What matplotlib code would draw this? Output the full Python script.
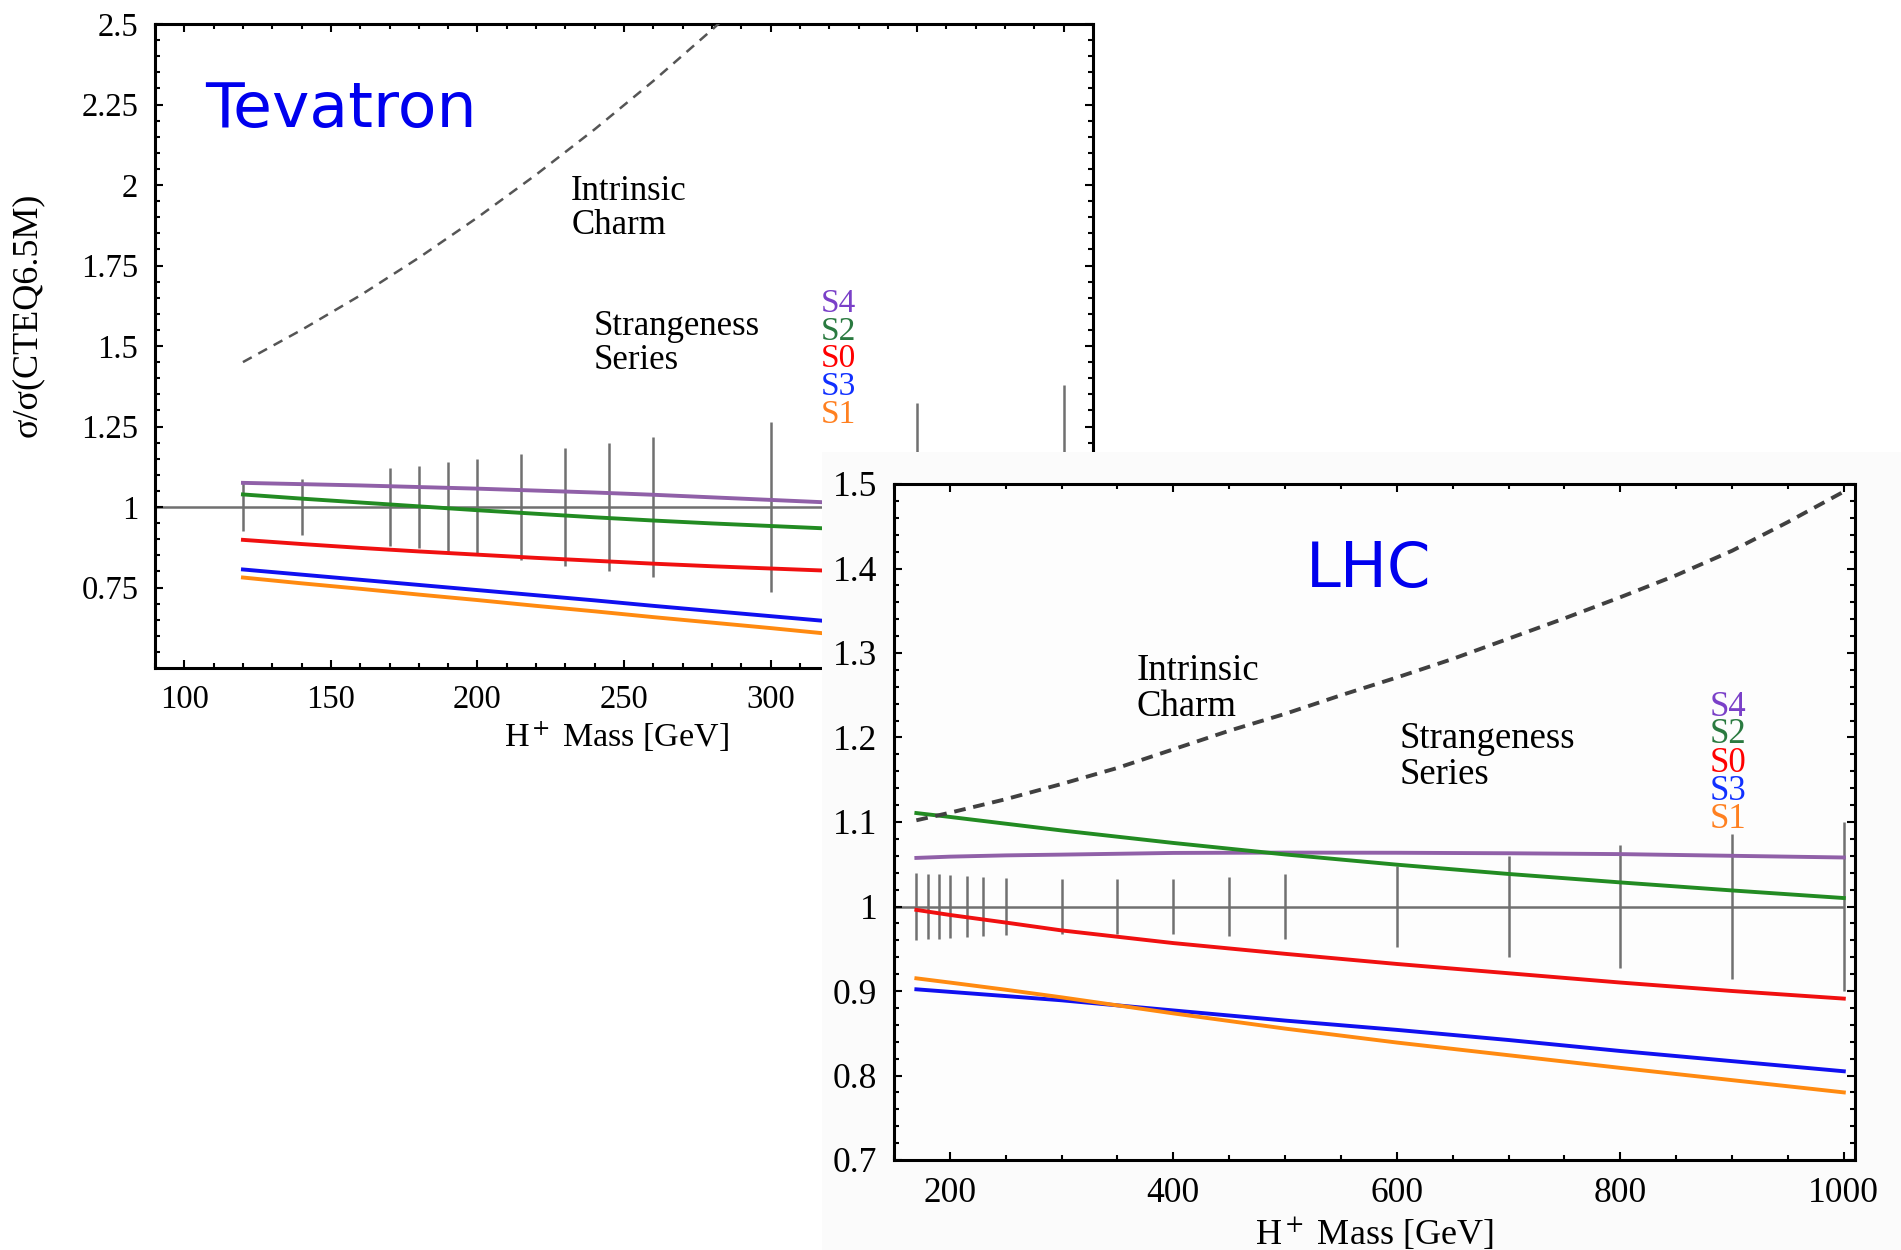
import matplotlib
matplotlib.use("Agg")
import matplotlib.pyplot as plt
from matplotlib.ticker import MultipleLocator, FixedLocator, FuncFormatter

plt.rcParams['font.family'] = ['Liberation Serif', 'DejaVu Serif']
plt.rcParams['mathtext.fontset'] = 'stix'

# ---- Tevatron data ----
tev_mass = [120, 140, 160, 180, 200, 220, 240, 260, 280, 300, 320]
tev_s4 = [1.075, 1.071, 1.067, 1.062, 1.057, 1.051, 1.045, 1.038, 1.030, 1.022, 1.014]
tev_s2 = [1.039, 1.026, 1.014, 1.002, 0.990, 0.979, 0.968, 0.958, 0.949, 0.941, 0.933]
tev_s0 = [0.898, 0.885, 0.873, 0.862, 0.852, 0.842, 0.833, 0.824, 0.816, 0.809, 0.802]
tev_s3 = [0.806, 0.790, 0.774, 0.758, 0.742, 0.726, 0.710, 0.693, 0.677, 0.661, 0.645]
tev_s1 = [0.781, 0.763, 0.746, 0.728, 0.711, 0.693, 0.676, 0.658, 0.641, 0.624, 0.606]
tev_ic_mass = [120, 140, 160, 180, 200, 220, 240, 260, 280, 300]
tev_ic = [1.45, 1.55, 1.657, 1.774, 1.899, 2.032, 2.173, 2.323, 2.482, 2.649]
tev_err_mass = [120, 140, 170, 180, 190, 200, 215, 230, 245, 260, 300, 350, 400]
tev_err = [0.073, 0.088, 0.12, 0.128, 0.139, 0.149, 0.166, 0.183, 0.199, 0.217, 0.265, 0.322, 0.38]

# ---- LHC data ----
lhc_mass = [170, 200, 250, 300, 400, 500, 600, 700, 800, 900, 1000]
lhc_s4 = [1.0575, 1.059, 1.0605, 1.0614, 1.0634, 1.0638, 1.0636, 1.063, 1.062, 1.060, 1.058]
lhc_s2 = [1.1106, 1.106, 1.098, 1.090, 1.0752, 1.0616, 1.0495, 1.0385, 1.0285, 1.019, 1.010]
lhc_s0 = [0.996, 0.990, 0.981, 0.9717, 0.9567, 0.944, 0.932, 0.921, 0.910, 0.900, 0.891]
lhc_s3 = [0.902, 0.899, 0.894, 0.889, 0.877, 0.865, 0.854, 0.842, 0.829, 0.817, 0.805]
lhc_s1 = [0.915, 0.910, 0.9015, 0.8925, 0.8735, 0.8555, 0.839, 0.824, 0.809, 0.7945, 0.780]
lhc_ic_mass = [170, 200, 250, 300, 350, 400, 450, 500, 550, 600, 650, 700, 750, 800, 850, 900, 950, 1000]
lhc_ic = [1.102, 1.111, 1.127, 1.145, 1.164, 1.186, 1.208, 1.228, 1.250, 1.271, 1.293, 1.317,
          1.341, 1.366, 1.392, 1.421, 1.455, 1.491]
lhc_err_mass = [170, 180, 190, 200, 215, 230, 250, 300, 350, 400, 450, 500, 600, 700, 800, 900, 1000]
lhc_err = [0.040, 0.039, 0.039, 0.037, 0.036, 0.035, 0.034, 0.032, 0.033, 0.033, 0.035, 0.039,
           0.048, 0.060, 0.073, 0.086, 0.100]

series_names = ['S4', 'S2', 'S0', 'S3', 'S1']
line_colors = {'S4': '#9060a8', 'S2': '#228b22', 'S0': '#f01010', 'S3': '#1010f0', 'S1': '#ff8a10'}
label_colors = {'S4': '#7a40c8', 'S2': '#2a7a40', 'S0': '#ff0000', 'S3': '#1030ff', 'S1': '#ff8020'}

W, H = 1901, 1250
fig = plt.figure(figsize=(W / 100, H / 100), dpi=100)
fig.patch.set_facecolor('white')


def frac(left, top, right, bottom):
    return [left / W, 1 - bottom / H, (right - left) / W, (bottom - top) / H]


def style_axes(ax, size):
    for s in ax.spines.values():
        s.set_linewidth(2.2)
    ax.tick_params(which='both', direction='in', top=True, right=True, width=1.5)
    ax.tick_params(which='major', length=6, labelsize=size, pad=12)
    ax.tick_params(which='minor', length=3.5)


def num_fmt(v, pos):
    return f'{v:g}'


# ---- Tevatron panel ----
ax1 = fig.add_axes(frac(155, 24, 1093, 668))
style_axes(ax1, 23.5)
ax1.set_xlim(90, 410)
ax1.set_ylim(0.5, 2.5)
ax1.xaxis.set_major_locator(MultipleLocator(50))
ax1.xaxis.set_minor_locator(MultipleLocator(10))
ax1.yaxis.set_major_locator(FixedLocator([0.75, 1, 1.25, 1.5, 1.75, 2, 2.25, 2.5]))
ax1.yaxis.set_minor_locator(MultipleLocator(0.05))
ax1.yaxis.set_major_formatter(FuncFormatter(num_fmt))

ax1.axhline(1, color='#707070', lw=1.8, zorder=1)
ax1.vlines(tev_err_mass, [1 - e for e in tev_err], [1 + e for e in tev_err],
           color='#707070', lw=1.8, zorder=2)
tev_series = {'S4': tev_s4, 'S2': tev_s2, 'S0': tev_s0, 'S3': tev_s3, 'S1': tev_s1}
for name in series_names:
    ax1.plot(tev_mass, tev_series[name], color=line_colors[name], lw=2.8, zorder=3)
ax1.plot(tev_ic_mass, tev_ic, color='#555555', lw=1.8, ls=(0, (4, 3)), zorder=3)

ax1.set_xlabel('H$^+$ Mass [GeV]', fontsize=24.5)
ax1.xaxis.set_label_coords(0.4915, -0.078)
fig.text(27 / W, 1 - 315 / H, 'σ/σ(CTEQ6.5M)', rotation=90, fontsize=26,
         ha='center', va='center')

ax1.text(107, 2.18, 'Tevatron', color='#0000ee', fontsize=45.5, family='DejaVu Sans')
ax1.text(232, 1.953, 'Intrinsic', fontsize=25)
ax1.text(232, 1.848, 'Charm', fontsize=25)
ax1.text(239.5, 1.534, 'Strangeness', fontsize=25)
ax1.text(239.5, 1.43, 'Series', fontsize=25)
for name, yb in zip(series_names, [1.606, 1.520, 1.435, 1.348, 1.261]):
    ax1.text(317, yb, name, color=label_colors[name], fontsize=24)

# ---- white box behind the LHC panel ----
bg = fig.add_axes(frac(822, 452, W, H))
bg.set_facecolor('#fbfbfb')
bg.set_xticks([])
bg.set_yticks([])
for s in bg.spines.values():
    s.set_visible(False)

# ---- LHC panel ----
ax2 = fig.add_axes(frac(894, 484, 1855, 1160))
style_axes(ax2, 25.5)
ax2.set_facecolor('#fdfdfd')
ax2.set_xlim(150, 1010)
ax2.set_ylim(0.7, 1.5)
ax2.xaxis.set_major_locator(MultipleLocator(200))
ax2.xaxis.set_minor_locator(MultipleLocator(50))
ax2.yaxis.set_major_locator(MultipleLocator(0.1))
ax2.yaxis.set_minor_locator(MultipleLocator(0.02))
ax2.yaxis.set_major_formatter(FuncFormatter(num_fmt))

ax2.hlines(1, 150, 1000, color='#707070', lw=1.8, zorder=1)
ax2.vlines(lhc_err_mass, [1 - e for e in lhc_err], [1 + e for e in lhc_err],
           color='#707070', lw=1.8, zorder=2)
lhc_series = {'S4': lhc_s4, 'S2': lhc_s2, 'S0': lhc_s0, 'S3': lhc_s3, 'S1': lhc_s1}
for name in series_names:
    ax2.plot(lhc_mass, lhc_series[name], color=line_colors[name], lw=2.8, zorder=3)
ax2.plot(lhc_ic_mass, lhc_ic, color='#404040', lw=2.8, ls=(0, (3, 2)), zorder=3)

ax2.set_xlabel('H$^+$ Mass [GeV]', fontsize=26, labelpad=4)

ax2.text(519, 1.378, 'LHC', color='#0000ee', fontsize=45, family='DejaVu Sans')
ax2.text(367, 1.2685, 'Intrinsic', fontsize=26.5)
ax2.text(367, 1.226, 'Charm', fontsize=26.5)
ax2.text(602.5, 1.188, 'Strangeness', fontsize=26.5)
ax2.text(602.5, 1.1445, 'Series', fontsize=26.5)
for name, yb in zip(series_names, [1.226, 1.193, 1.159, 1.126, 1.0925]):
    ax2.text(880, yb, name, color=label_colors[name], fontsize=25)

plt.savefig('out.png', dpi=100)
